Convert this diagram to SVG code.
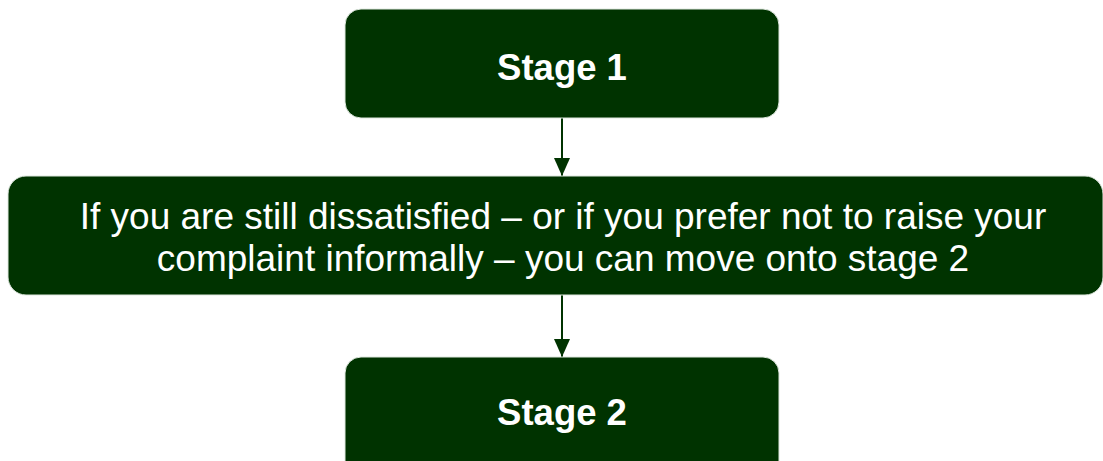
<svg xmlns="http://www.w3.org/2000/svg" width="1103" height="461" viewBox="0 0 1103 461">
<style>
.box{fill:#003300;stroke:#dfe8df;stroke-width:1}
.t{fill:#ffffff;font-family:"Liberation Sans",Arial,sans-serif;text-anchor:middle}
.b{font-weight:bold;font-size:36.5px}
.r{font-size:37px}
.c{stroke:#003300;stroke-width:2;fill:none}
</style>
<defs>
<marker id="ah" viewBox="0 0 18 16" refX="18" refY="8" markerWidth="18" markerHeight="16" markerUnits="userSpaceOnUse" orient="auto">
<path d="M0,0 L18,8 L0,16 Z" fill="#003300"/>
</marker>
</defs>
<rect width="1103" height="461" fill="#ffffff"/>
<g id="connectors">
<line class="c" x1="562" y1="118" x2="562" y2="176" marker-end="url(#ah)"/>
<line class="c" x1="562" y1="295" x2="562" y2="357" marker-end="url(#ah)"/>
</g>
<g id="stage1">
<rect class="box" x="345" y="9" width="434" height="109" rx="16"/>
<text class="t b" x="562" y="80">Stage 1</text>
</g>
<g id="middle">
<rect class="box" x="8" y="176" width="1095" height="119" rx="18"/>
<text class="t r" x="563" y="229">If you are still dissatisfied – or if you prefer not to raise your</text>
<text class="t r" x="563" y="271">complaint informally – you can move onto stage 2</text>
</g>
<g id="stage2">
<rect class="box" x="345" y="357" width="434" height="120" rx="16"/>
<text class="t b" x="562" y="425">Stage 2</text>
</g>
</svg>
